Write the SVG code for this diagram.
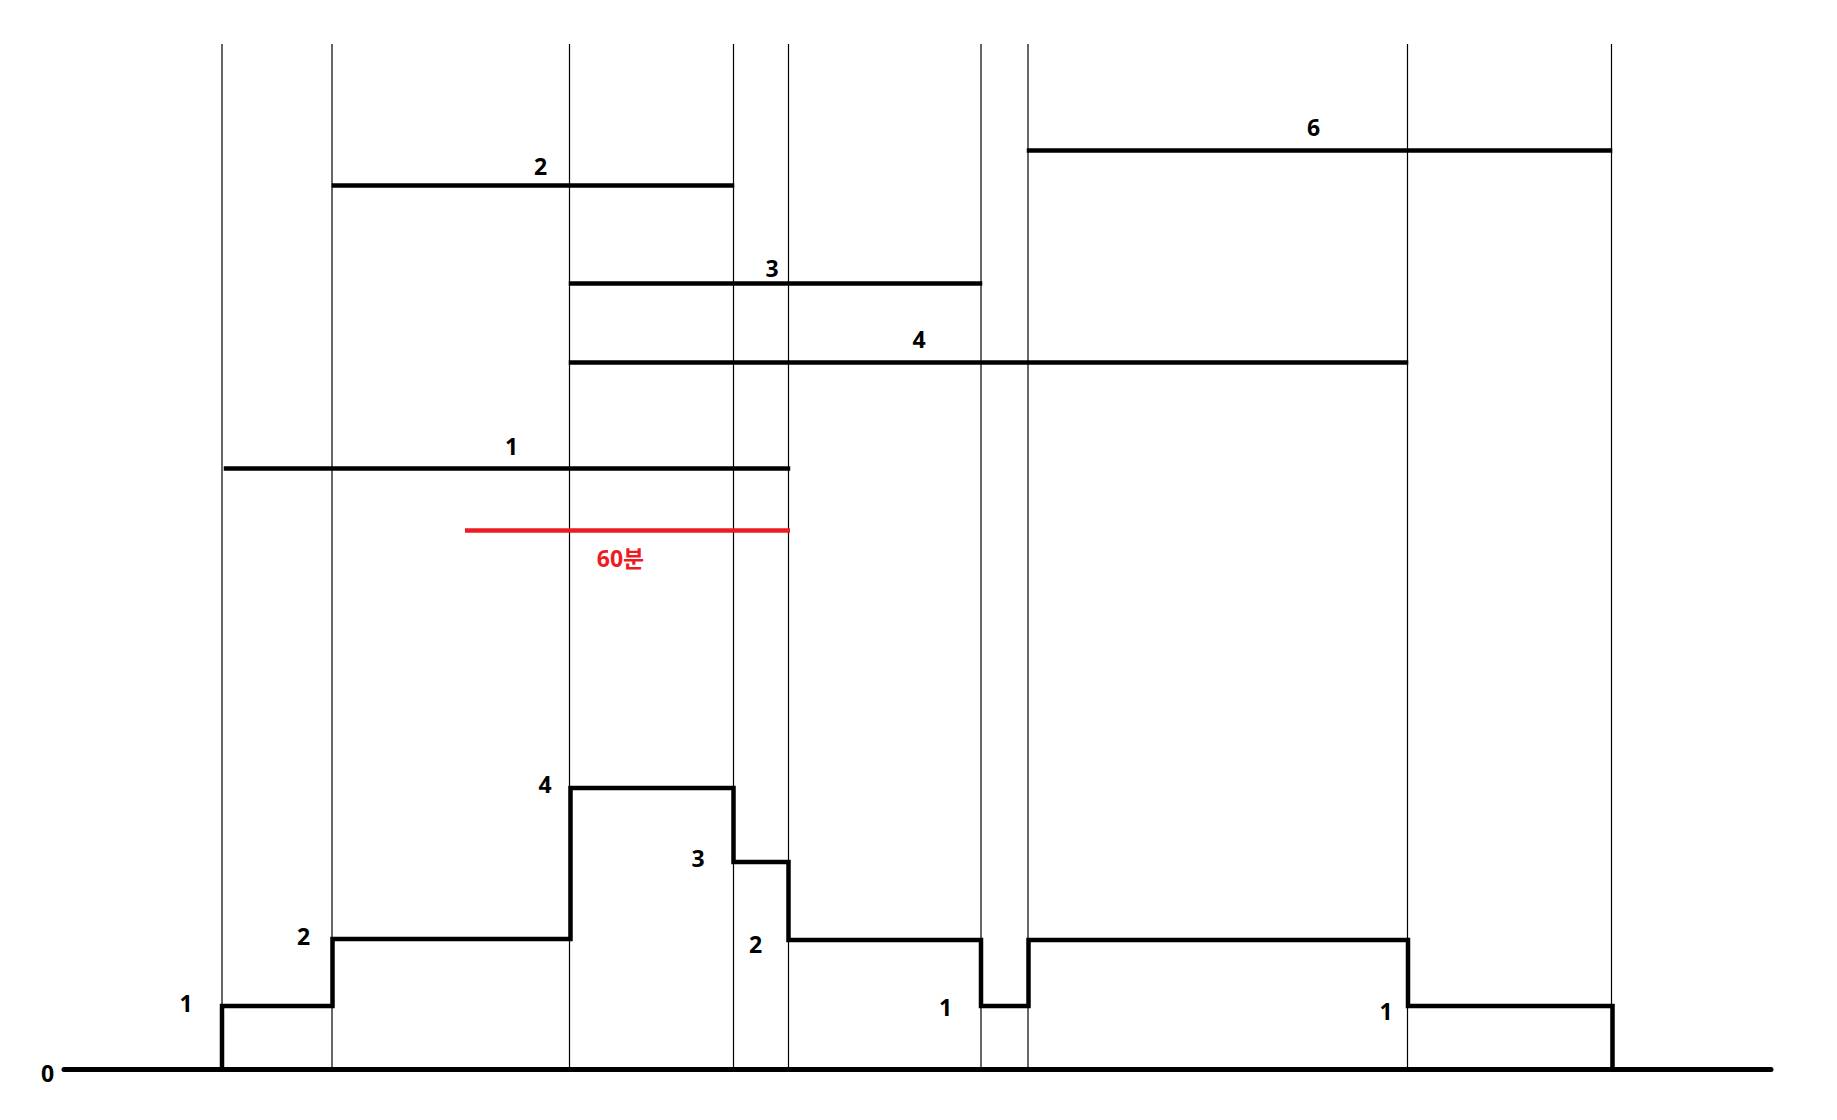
<svg xmlns="http://www.w3.org/2000/svg" width="1837" height="1120" viewBox="0 0 1837 1120">
<style>
.grid{stroke:#000;stroke-width:1.2;fill:none}
.bar{stroke:#000;stroke-width:4.5;fill:none;stroke-linecap:square}
.red{stroke:#ED1C24;stroke-width:4.5;fill:none}
.step{stroke:#000;stroke-width:4.5;fill:none;stroke-linejoin:miter}
.axis{stroke:#000;stroke-width:5;fill:none;stroke-linecap:round}
text{font-family:"Noto Sans","Noto Sans CJK KR",sans-serif;font-weight:bold;font-size:23px;fill:#000;text-anchor:middle}
.rt{fill:#ED1C24}
</style>
<rect width="1837" height="1120" fill="#fff"/>
<g id="gridlines">
<line class="grid" x1="222" y1="44" x2="222" y2="1069"/>
<line class="grid" x1="332" y1="44" x2="332" y2="1069"/>
<line class="grid" x1="569.5" y1="44" x2="569.5" y2="1069"/>
<line class="grid" x1="733.5" y1="44" x2="733.5" y2="1069"/>
<line class="grid" x1="788.5" y1="44" x2="788.5" y2="1069"/>
<line class="grid" x1="981" y1="44" x2="981" y2="1069"/>
<line class="grid" x1="1028" y1="44" x2="1028" y2="1069"/>
<line class="grid" x1="1407.5" y1="44" x2="1407.5" y2="1069"/>
<line class="grid" x1="1611.5" y1="44" x2="1611.5" y2="1069"/>
</g>
<g id="intervals">
<g id="bar6"><line class="bar" x1="1029" y1="150.5" x2="1610" y2="150.5"/><text x="1313.5" y="135.5">6</text></g>
<g id="bar2"><line class="bar" x1="334" y1="185.5" x2="732" y2="185.5"/><text x="540.5" y="174.5">2</text></g>
<g id="bar3"><line class="bar" x1="571" y1="283.5" x2="980" y2="283.5"/><text x="772" y="276.5">3</text></g>
<g id="bar4"><line class="bar" x1="571" y1="362.5" x2="1406" y2="362.5"/><text x="919" y="348">4</text></g>
<g id="bar1"><line class="bar" x1="226" y1="468.5" x2="788" y2="468.5"/><text x="511.5" y="454.5">1</text></g>
<g id="red60"><line class="red" x1="465" y1="530.5" x2="790" y2="530.5"/><text class="rt" x="620.5" y="566.5">60분</text></g>
</g>
<g id="count">
<path class="step" d="M222,1069 V1006 H332.5 V939 H570.5 V788 H733.5 V862 H788.5 V940 H981 V1006 H1028.5 V940 H1408 V1006 H1612.5 V1069"/>
<line class="axis" x1="64" y1="1069.5" x2="1771" y2="1069.5"/>
<text x="47.5" y="1081.5">0</text>
<text x="186" y="1011.5">1</text>
<text x="303.5" y="944.5">2</text>
<text x="545" y="792.5">4</text>
<text x="698" y="866.5">3</text>
<text x="755.5" y="952.5">2</text>
<text x="945.5" y="1015.5">1</text>
<text x="1386" y="1019.5">1</text>
</g>
</svg>
